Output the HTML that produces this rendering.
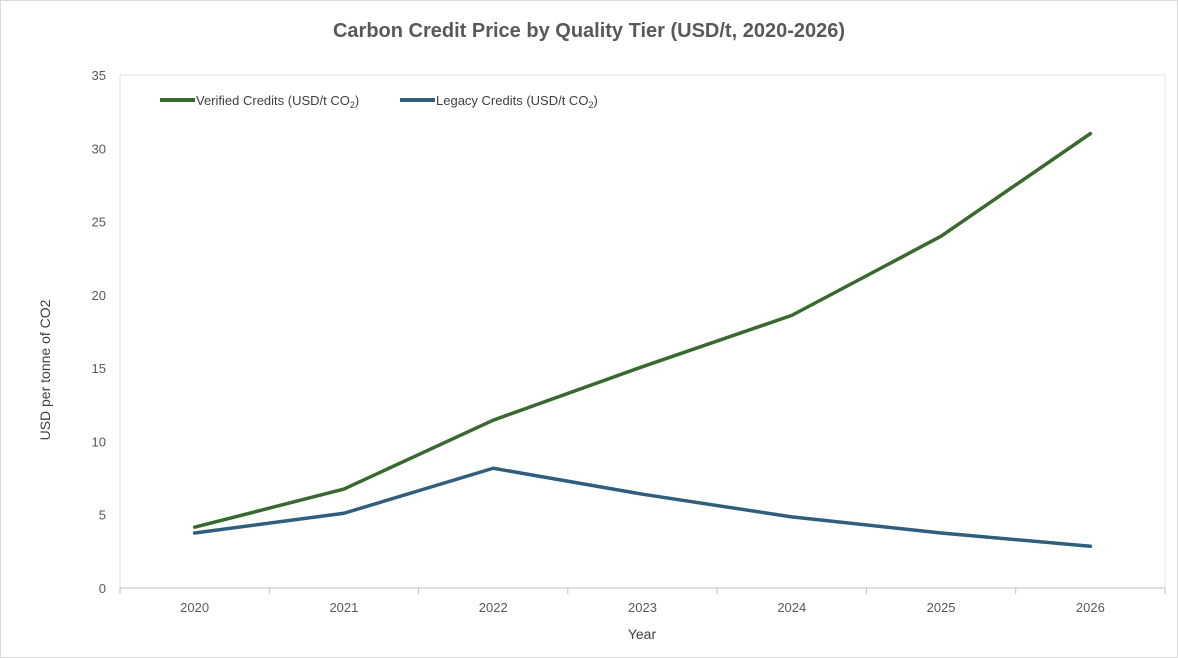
<!DOCTYPE html>
<html><head><meta charset="utf-8"><style>
html,body{margin:0;padding:0;background:#fff;}
svg{display:block;font-family:"Liberation Sans",sans-serif;}
</style></head><body>
<svg id="chart" width="1178" height="658" viewBox="0 0 1178 658">
<rect x="0.5" y="0.5" width="1177" height="657" fill="#fff" stroke="#d9d9d9"/>
<text x="589" y="37" text-anchor="middle" font-size="20" font-weight="bold" fill="#595959">Carbon Credit Price by Quality Tier (USD/t, 2020-2026)</text>
<rect x="120" y="75" width="1045" height="513" fill="none" stroke="#e3e3e3"/>
<g id="axes"></g>
<g id="series"></g>
<text x="50" y="370" transform="rotate(-90 50 370)" text-anchor="middle" font-size="14" fill="#404040">USD per tonne of CO2</text>
<text x="642" y="639" text-anchor="middle" font-size="14" fill="#404040">Year</text>
<g>
<line x1="160" y1="100" x2="195" y2="100" stroke="#38692e" stroke-width="4"/>
<text x="196" y="105" font-size="13" fill="#404040">Verified Credits (USD/t CO<tspan font-size="9" dy="3">2</tspan><tspan dy="-3">)</tspan></text>
<line x1="400" y1="100" x2="435" y2="100" stroke="#2f5f7d" stroke-width="4"/>
<text x="436" y="105" font-size="13" fill="#404040">Legacy Credits (USD/t CO<tspan font-size="9" dy="3">2</tspan><tspan dy="-3">)</tspan></text>
</g>
</svg>
<script>
const years = ["2020","2021","2022","2023","2024","2025","2026"];
const verified = [4.15, 6.75, 11.45, 15.1, 18.6, 24.0, 31.0];
const legacy = [3.75, 5.1, 8.17, 6.4, 4.85, 3.75, 2.85];
const yTicks = [0,5,10,15,20,25,30,35];
const NS="http://www.w3.org/2000/svg";
const X0=120,X1=1165,Y0=588,Y1=75,YMAX=35;
const band=(X1-X0)/years.length;
const xs=i=>X0+band*(i+0.5);
const ys=v=>Y0-(v/YMAX)*(Y0-Y1);
function mk(tag,attrs,parent){const e=document.createElementNS(NS,tag);for(const k in attrs)e.setAttribute(k,attrs[k]);parent.appendChild(e);return e;}
const axes=document.getElementById('axes');
yTicks.forEach(t=>{
  const tx=mk('text',{x:106,y:ys(t)+5,'text-anchor':'end','font-size':13,fill:'#595959'},axes);
  tx.textContent=t;
  
  
});
const ax=mk('line',{x1:X0,y1:Y0,x2:X1,y2:Y0,stroke:'#bfbfbf'},axes);


for(let i=0;i<=years.length;i++){
  const x=X0+band*i;
  const tk=mk('line',{x1:x,y1:Y0,x2:x,y2:Y0+6,stroke:'#bfbfbf'},axes);
  
  
}
years.forEach((y,i)=>{
  const tx=mk('text',{x:xs(i),y:612,'text-anchor':'middle','font-size':13,fill:'#595959'},axes);
  tx.textContent=y;
  
  
});
const sg=document.getElementById('series');
function line(vals,color,name){
  const p=mk('polyline',{points:vals.map((v,i)=>xs(i)+','+ys(v)).join(' '),fill:'none',stroke:color,'stroke-width':3.5,'stroke-linejoin':'round','stroke-linecap':'round'},sg);
  
  
}
line(verified,'#38692e','verified-credits-line');
line(legacy,'#2f5f7d','legacy-credits-line');
</script>
</body></html>
